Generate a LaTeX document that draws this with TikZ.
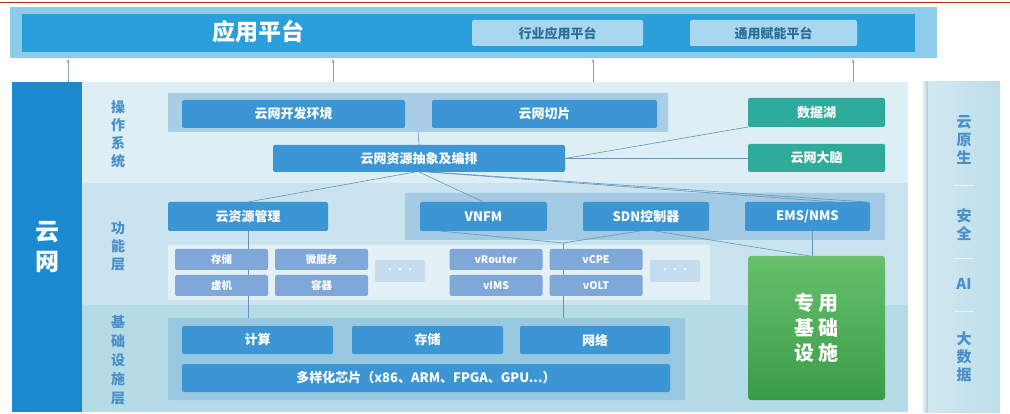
\documentclass[tikz,border=0pt]{standalone}
\usepackage{fontspec}
\setmainfont{Noto Sans CJK SC}
\usetikzlibrary{arrows.meta,calc}
\definecolor{cblue}{HTML}{3C96D4}
\definecolor{topin}{HTML}{2B9FDB}
\definecolor{topout}{HTML}{8CCBE9}
\definecolor{subbox}{HTML}{A8D8EF}
\definecolor{subtext}{HTML}{2D6C99}
\definecolor{leftcol}{HTML}{1B8BD1}
\definecolor{bandA}{HTML}{DDEEF5}
\definecolor{bandB}{HTML}{C9E4EF}
\definecolor{bandC}{HTML}{B5DBE7}
\definecolor{panelOS}{HTML}{A9CDE6}
\definecolor{panelF}{HTML}{A3CBE3}
\definecolor{panelL}{HTML}{E3F0F6}
\definecolor{smallb}{HTML}{7FA7D8}
\definecolor{dotsb}{HTML}{C5DBEE}
\definecolor{teal}{HTML}{2FAB9C}
\definecolor{gtop}{HTML}{66C06C}
\definecolor{gbot}{HTML}{3A9C48}
\definecolor{panelB}{HTML}{98C8E0}
\definecolor{cline}{HTML}{5F95C0}
\definecolor{lbl}{HTML}{4A8FC7}
\definecolor{arrowc}{HTML}{8FA3B8}
\definecolor{redline}{HTML}{B03020}
\definecolor{shadowc}{HTML}{9CC3D2}
\newcommand\bx[7]{\node[#2, minimum width=#5pt, minimum height=#6pt] (#1) at (#3,#4) {#7};}
\begin{document}
\begin{tikzpicture}[x=1pt,y=-1pt,
  every node/.style={inner sep=0pt, outer sep=0pt},
  mbox/.style={fill=cblue, text=white, rounded corners=2pt, font=\bfseries\fontsize{13}{15}\selectfont},
  tbox/.style={fill=teal, text=white, rounded corners=2pt, font=\bfseries\fontsize{13}{15}\selectfont},
  sbox/.style={fill=smallb, text=white, rounded corners=2pt, font=\bfseries\fontsize{10.5}{12}\selectfont},
  dbox/.style={fill=dotsb, text=white, rounded corners=2pt, font=\fontsize{10}{10}\selectfont},
  subp/.style={fill=subbox, text=subtext, rounded corners=2pt, font=\bfseries\fontsize{13}{15}\selectfont},
  panel/.style={rounded corners=1pt},
  band/.style={},
  layerlbl/.style={text=lbl, align=center, font=\bfseries\fontsize{14}{18}\selectfont},
  sidelbl/.style={text=lbl, align=center, font=\bfseries\fontsize{15}{18}\selectfont},
  conn/.style={draw=cline, line width=0.6pt},
  uparrow/.style={draw=arrowc, line width=0.6pt, -{Stealth[length=4pt,width=3pt]}}
]
\useasboundingbox[fill=white] (0,0) rectangle (1010,414);
% top red rule
\coordinate (rl) at (0,2.5); \coordinate (rr) at (1010,2.5);
\draw[redline, line width=0.8pt] (rl) -- (rr);
% application platform
\bx{topouter}{fill=topout}{473.5}{32.5}{927}{51}{}
\bx{topinner}{fill=topin}{468.5}{33}{893}{38}{}
\node[text=white, font=\bfseries\fontsize{23}{25}\selectfont] (app) at (258,32) {应用平台};
\bx{ind}{subp}{557.5}{33}{171}{26}{行业应用平台}
\bx{gen}{subp}{773.5}{33}{167}{26}{通用赋能平台}
% main bands
\bx{bandOS}{band, fill=bandA}{495}{132.5}{826}{101}{}
\bx{bandF}{band, fill=bandB}{495}{244}{826}{122}{}
\bx{bandB}{band, fill=bandC}{495}{358.5}{826}{107}{}
\bx{leftc}{fill=leftcol, text=white, align=center, font=\bfseries\fontsize{24}{30}\selectfont}{47}{247}{70}{330}{云\\网}
% right column
\node[left color=white, right color=shadowc, minimum width=8pt, minimum height=330pt] (shadow) at (925,247) {};
\bx{rightc}{left color=bandB!85!white, right color=bandC!90!white}{964}{247}{72}{330}{}
\node[sidelbl] (s1) at (964,140) {云\\原\\生};
\node[sidelbl] (s2) at (964,225) {安\\全};
\node[sidelbl] (s3) at (964,284) {AI};
\node[sidelbl] (s4) at (964,357) {大\\数\\据};
\foreach \yy/\nm in {185/d1,258/d2,311/d3}{
  \coordinate (\nm a) at (954,\yy); \coordinate (\nm b) at (974,\yy);
  \draw[white!70!bandC, line width=0.8pt] (\nm a) -- (\nm b);
}
% up arrows
\foreach \xx/\nm in {68/a1,333/a2,593/a3,853/a4}{
  \coordinate (\nm s) at (\xx,82); \coordinate (\nm e) at (\xx,59);
  \draw[uparrow] (\nm s) -- (\nm e);
}
% layer labels
\node[layerlbl] (lOS) at (118,134) {操\\作\\系\\统};
\node[layerlbl] (lF) at (118,246) {功\\能\\层};
\node[layerlbl, font=\bfseries\fontsize{14}{19}\selectfont] (lB) at (118,360) {基\\础\\设\\施\\层};
% panels
\bx{pOS}{panel, fill=panelOS}{418}{112.5}{500}{39}{}
\bx{pF}{panel, fill=panelF}{645}{216.5}{480}{47}{}
\bx{pL}{panel, fill=panelL}{439}{272.5}{542}{55}{}
\bx{pB}{panel, fill=panelB}{426.5}{359}{517}{82}{}
% OS layer boxes
\bx{dev}{mbox}{293.5}{114}{223}{28}{云网开发环境}
\bx{slice}{mbox}{544.5}{114}{225}{28}{云网切片}
% connectors (drawn under the boxes)
\coordinate (orchS) at (419,172);
\coordinate (orchN) at (419,145);
\coordinate (orchE) at (565,158.5);
\coordinate (crmN) at (248,202);
\coordinate (crmS) at (248,231);
\coordinate (vnfmN) at (483.5,202);
\coordinate (vnfmSW) at (440,231);
\coordinate (sdnS) at (640,231);
\coordinate (sdnSE) at (655,231);
\coordinate (emsN) at (835,202);
\coordinate (emsNE) at (866,202);
\coordinate (emsS) at (812,231);
\coordinate (junc) at (563,243);
\coordinate (pBNa) at (248,318);
\coordinate (pBNb) at (563,318);
\coordinate (dlSW) at (748,127);
\coordinate (brW) at (748,158.5);
\coordinate (grN) at (812,256);
\coordinate (grNb) at (810,256);
\draw[conn] (pOS.south) -- (orchN);
\draw[conn] ([xshift=-4pt]orchS) -- (crmN);
\draw[conn] (orchS) -- (vnfmN);
\draw[conn] ([xshift=8pt]orchS) -- (emsN);
\draw[conn] ([xshift=12pt]orchS) -- (emsNE);
\draw[conn] (orchE) -- (dlSW);
\draw[conn] (orchE) -- (brW);
\draw[conn] (crmS) -- (pBNa);
\draw[conn] (vnfmSW) -- (junc) -- (sdnS);
\draw[conn] (junc) -- (pBNb);
\draw[conn] (sdnSE) -- (grNb);
\draw[conn] (emsS) -- (grN);
% OS layer
\bx{orch}{mbox}{419}{158.5}{292}{27}{云网资源抽象及编排}
\bx{lake}{tbox}{816.5}{112.5}{137}{29}{数据湖}
\bx{brain}{tbox}{816.5}{158}{137}{28}{云网大脑}
% functional layer
\bx{crm}{mbox}{248}{216.5}{160}{29}{云资源管理}
\bx{vnfm}{mbox}{483.5}{216.5}{127}{29}{VNFM}
\bx{sdn}{mbox}{646}{216.5}{126}{29}{SDN控制器}
\bx{ems}{mbox}{807.5}{216.5}{125}{29}{EMS/NMS}
\bx{st}{sbox}{221.5}{259.5}{93}{21}{存储}
\bx{ms}{sbox}{321.5}{259.5}{93}{21}{微服务}
\bx{vm}{sbox}{221.5}{285.5}{93}{21}{虚机}
\bx{ct}{sbox}{321.5}{285.5}{93}{21}{容器}
\bx{dotsA}{dbox}{400}{271}{50}{22}{···}
\bx{vr}{sbox}{496}{259.5}{93}{21}{vRouter}
\bx{vc}{sbox}{596}{259.5}{93}{21}{vCPE}
\bx{vi}{sbox}{496}{285.5}{93}{21}{vIMS}
\bx{vo}{sbox}{596}{285.5}{93}{21}{vOLT}
\bx{dotsB}{dbox}{675}{271}{50}{22}{···}
\bx{green}{top color=gtop, bottom color=gbot, rounded corners=3pt, text=white, align=center, font=\bfseries\fontsize{20}{25}\selectfont}{816.5}{328}{137}{144}{专 用\\基 础\\设 施}
% base layer
\bx{calc}{mbox}{257.5}{340}{151}{28}{计算}
\bx{stor}{mbox}{427.5}{340}{151}{28}{存储}
\bx{net}{mbox}{595}{340}{150}{28}{网络}
\bx{chip}{mbox}{426}{378}{488}{28}{多样化芯片（x86、ARM、FPGA、GPU...）}
\end{tikzpicture}
\end{document}
